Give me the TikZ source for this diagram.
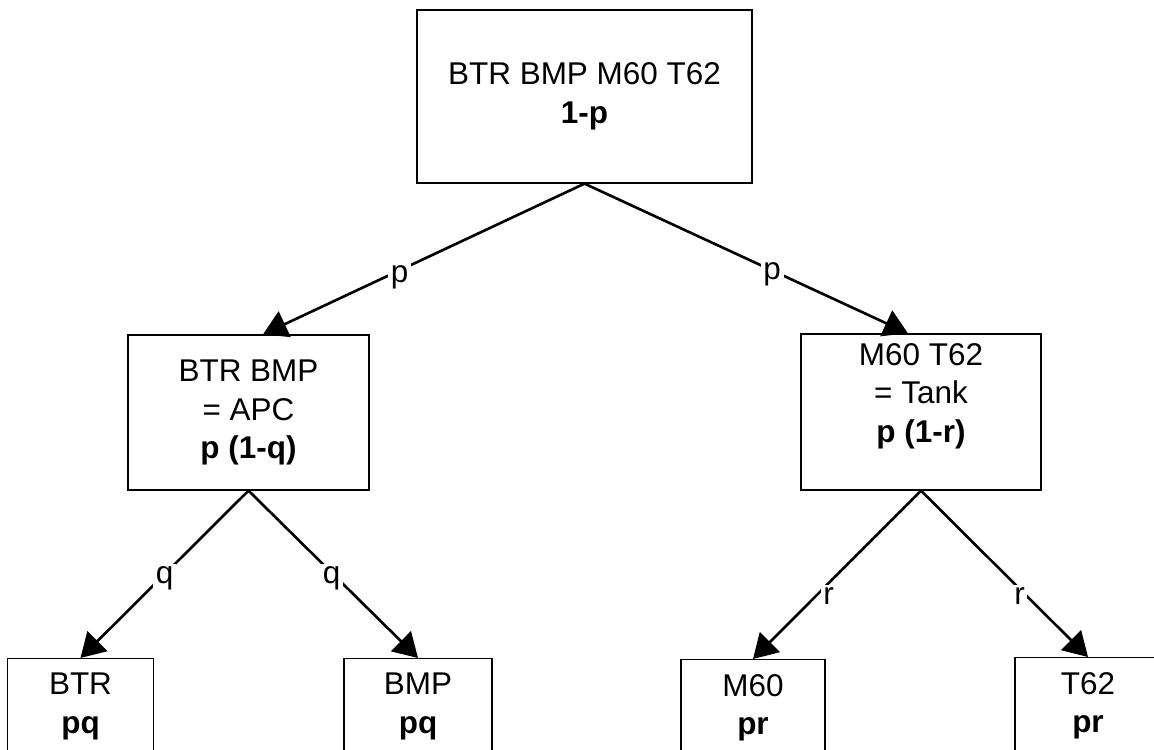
\documentclass[tikz,border=0pt]{standalone}
\usepackage{fontspec}
\setmainfont{Liberation Sans}
\usetikzlibrary{arrows.meta}
\tikzset{
  catbox/.style={draw, line width=0.75pt, align=center},
  leafbox/.style={draw, line width=0.75pt, align=center, anchor=north,
    minimum width=2.92cm, inner ysep=0.29cm},
  branch/.style={line width=1.5pt, -{Triangle[length=0.48cm,width=0.56cm]}},
  prob/.style={fill=white, inner sep=1.5pt}
}

\begin{document}
\begin{tikzpicture}[x=0.02cm, y=-0.02cm, font=\fontsize{17.9pt}{21.9pt}\selectfont]
  \useasboundingbox (0,0) rectangle (1154,750);
  \node[catbox, minimum width=6.7cm, minimum height=3.46cm] (all) at (584.5,96.5)
    {BTR BMP M60 T62\\\textbf{1-p}};
  \node[catbox, minimum width=4.82cm, minimum height=3.1cm] (apc) at (248.5,412.5)
    {BTR BMP\\= APC\\\textbf{p (1-q)}};
  \node[catbox, minimum width=4.8cm, minimum height=3.12cm] (tank) at (921,412)
    {M60 T62\\= Tank\\\textbf{p (1-r)}\\\mbox{}};
  \node[leafbox] (btr) at (80.5,658) {BTR\\\textbf{pq}\\\mbox{}};
  \node[leafbox, minimum width=2.96cm] (bmp) at (418,658) {BMP\\\textbf{pq}\\\mbox{}};
  \node[leafbox, minimum width=2.88cm] (msixty) at (753,659) {M60\\\textbf{pr}\\\mbox{}};
  \node[leafbox] (tsixtytwo) at (1088,657) {T62\\\textbf{pr}\\\mbox{}};
  \draw[branch] (all.south) -- ([xshift=0.29cm]apc.north)
    node[prob, pos=0.575, yshift=-0.14cm] {p};
  \draw[branch] (all.south) -- ([xshift=-0.26cm]tank.north)
    node[prob, pos=0.58, yshift=-0.08cm] {p};
  \draw[branch] (apc.south) -- (btr.north) node[prob, pos=0.5, yshift=-0.08cm] {q};
  \draw[branch] (apc.south) -- (bmp.north) node[prob, pos=0.49, yshift=-0.12cm] {q};
  \draw[branch] (tank.south) -- (msixty.north) node[prob, pos=0.55, yshift=-0.26cm] {r};
  \draw[branch] (tank.south) -- (tsixtytwo.north) node[prob, pos=0.59, yshift=-0.14cm] {r};
\end{tikzpicture}
\end{document}
